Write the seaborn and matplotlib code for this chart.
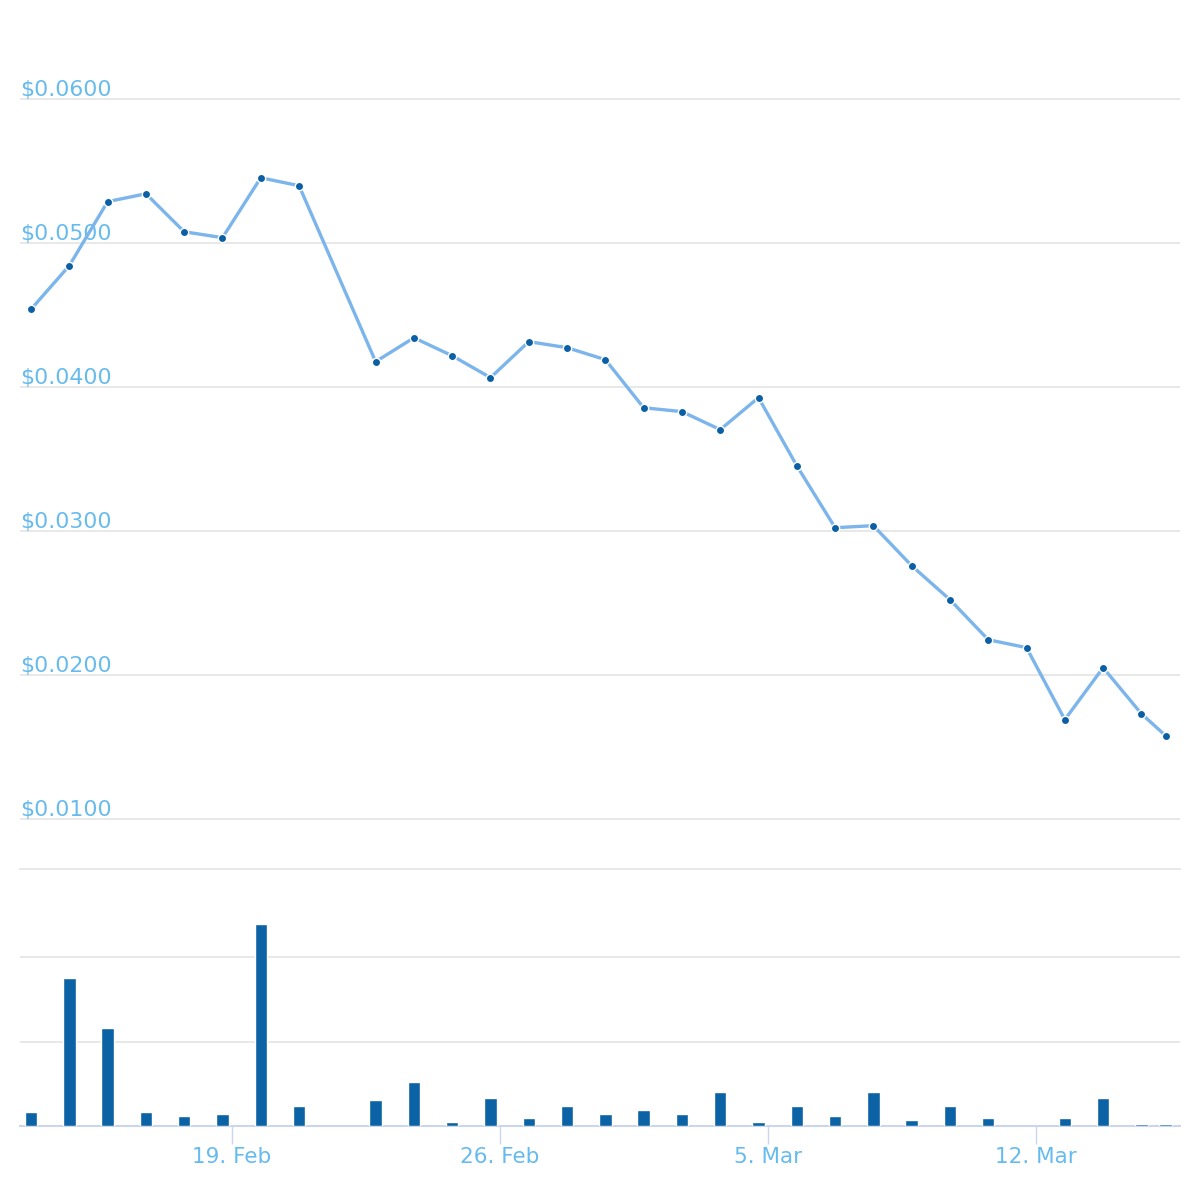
import matplotlib
matplotlib.use("Agg")
import matplotlib.pyplot as plt
import matplotlib.transforms as mtransforms
import seaborn as sns
import pandas as pd

# ---- data ----
price_times = [
    "2018-02-13 18:00", "2018-02-14 18:00", "2018-02-15 18:00", "2018-02-16 18:00",
    "2018-02-17 18:00", "2018-02-18 18:00", "2018-02-19 18:00", "2018-02-20 18:00",
    "2018-02-22 18:00", "2018-02-23 18:00", "2018-02-24 18:00", "2018-02-25 18:00",
    "2018-02-26 18:00", "2018-02-27 18:00", "2018-02-28 18:00", "2018-03-01 18:00",
    "2018-03-02 18:00", "2018-03-03 18:00", "2018-03-04 18:00", "2018-03-05 18:00",
    "2018-03-06 18:00", "2018-03-07 18:00", "2018-03-08 18:00", "2018-03-09 18:00",
    "2018-03-10 18:00", "2018-03-11 18:00", "2018-03-12 18:00", "2018-03-13 18:00",
    "2018-03-14 18:00", "2018-03-15 09:15",
]
price_values = [
    0.04540, 0.04843, 0.05287, 0.05342, 0.05078, 0.05037, 0.05453, 0.05398,
    0.04176, 0.04342, 0.04217, 0.04065, 0.04315, 0.04273, 0.04190, 0.03856,
    0.03829, 0.03704, 0.03926, 0.03453, 0.03023, 0.03037, 0.02759, 0.02523,
    0.02245, 0.02190, 0.01690, 0.02051, 0.01731, 0.01578,
]

volume_times = [
    "2018-02-13 18:00", "2018-02-14 18:00", "2018-02-15 18:00", "2018-02-16 18:00",
    "2018-02-17 18:00", "2018-02-18 18:00", "2018-02-19 18:00", "2018-02-20 18:00",
    "2018-02-22 18:00", "2018-02-23 18:00", "2018-02-24 18:00", "2018-02-25 18:00",
    "2018-02-26 18:00", "2018-02-27 18:00", "2018-02-28 18:00", "2018-03-01 18:00",
    "2018-03-02 18:00", "2018-03-03 18:00", "2018-03-04 18:00", "2018-03-05 18:00",
    "2018-03-06 18:00", "2018-03-07 18:00", "2018-03-08 18:00", "2018-03-09 18:00",
    "2018-03-10 18:00", "2018-03-12 18:00", "2018-03-13 18:00", "2018-03-14 18:00",
    "2018-03-15 09:15",
]
volume_values = [
    16.6, 175.0, 116.0, 16.6, 11.8, 14.2, 239.0, 23.7,
    30.8, 52.0, 4.7, 33.0, 9.5, 23.7, 14.2, 19.0,
    14.2, 40.0, 4.7, 23.7, 11.8, 40.0, 7.1, 23.7,
    9.5, 9.5, 33.0, 2.6, 2.6,
]

price_ticks = [0.01, 0.02, 0.03, 0.04, 0.05, 0.06]
price_tick_labels = ["$0.0100", "$0.0200", "$0.0300", "$0.0400", "$0.0500", "$0.0600"]
date_ticks = ["2018-02-19", "2018-02-26", "2018-03-05", "2018-03-12"]
date_tick_labels = ["19. Feb", "26. Feb", "5. Mar", "12. Mar"]

# ---- style ----
sns.set_theme(style="white")
plt.rcParams["font.family"] = ["DejaVu Sans"]

LINE_C = "#7cb5ec"
MARK_C = "#0b5fa5"
BAR_C = "#0b62a4"
GRID_C = "#e6e6e6"
AXIS_C = "#ccd6eb"
LABEL_C = "#66bbee"

price_df = pd.DataFrame({"time": pd.to_datetime(price_times), "price": price_values})
vol_df = pd.DataFrame({"time": pd.to_datetime(volume_times), "volume": volume_values})

fig = plt.figure(figsize=(12, 12), dpi=100)
W, H = 1200.0, 1200.0
left, right = 20 / W, 1180 / W
ax_p = fig.add_axes([left, 1 - 865 / H, right - left, 845 / H])
ax_v = fig.add_axes([left, 1 - 1126 / H, right - left, 257 / H])

xmin = pd.Timestamp("2018-02-13 11:05")
xmax = pd.Timestamp("2018-03-15 18:12")

# price line
sns.lineplot(data=price_df, x="time", y="price", ax=ax_p, color=LINE_C,
             linewidth=2.4, marker="o", markersize=6, markerfacecolor=MARK_C,
             markeredgecolor="white", markeredgewidth=1.0, zorder=3)
ax_p.set_xlim(xmin, xmax)
ax_p.set_ylim(0.06 - (865 - 99) / 14400.0, 0.06 + (99 - 20) / 14400.0)
ax_p.set_yticks(price_ticks)
ax_p.yaxis.grid(True, color=GRID_C, linewidth=1.3)
ax_p.xaxis.grid(False)
ax_p.tick_params(axis="y", left=False, labelleft=False)
ax_p.tick_params(axis="x", bottom=False, labelbottom=False)
for s in ax_p.spines.values():
    s.set_visible(False)
ax_p.set_xlabel("")
ax_p.set_ylabel("")

trans = mtransforms.offset_copy(ax_p.get_yaxis_transform(), fig=fig, x=0, y=3, units="dots")
for v, lab in zip(price_ticks, price_tick_labels):
    ax_p.text(0.0, v, lab, transform=trans, ha="left", va="baseline",
              fontsize=15.8, color=LABEL_C, zorder=2)

# volume bars
bar_w = 12.5 / 38.29
ax_v.bar(vol_df["time"], vol_df["volume"], width=bar_w, color=BAR_C, zorder=3)
ax_v.set_xlim(xmin, xmax)
vtop = (1126 - 869) / 84.5 * 100
ax_v.set_ylim(0, vtop)
ax_v.set_yticks([100, 200])
ax_v.yaxis.grid(True, color=GRID_C, linewidth=1.3)
ax_v.xaxis.grid(False)
ax_v.tick_params(axis="y", left=False, labelleft=False)
for k in ["left", "right"]:
    ax_v.spines[k].set_visible(False)
ax_v.spines["top"].set_color(GRID_C)
ax_v.spines["top"].set_linewidth(1.3)
ax_v.spines["bottom"].set_color(AXIS_C)
ax_v.spines["bottom"].set_linewidth(1.5)
ax_v.set_xticks(pd.to_datetime(date_ticks))
ax_v.set_xticklabels(date_tick_labels)
ax_v.tick_params(axis="x", bottom=True, direction="out", length=13, width=1.0,
                 color=AXIS_C, labelcolor=LABEL_C, labelsize=15.5, pad=2)
ax_v.set_xlabel("")
ax_v.set_ylabel("")

fig.savefig("out.png", dpi=100, facecolor="white")
